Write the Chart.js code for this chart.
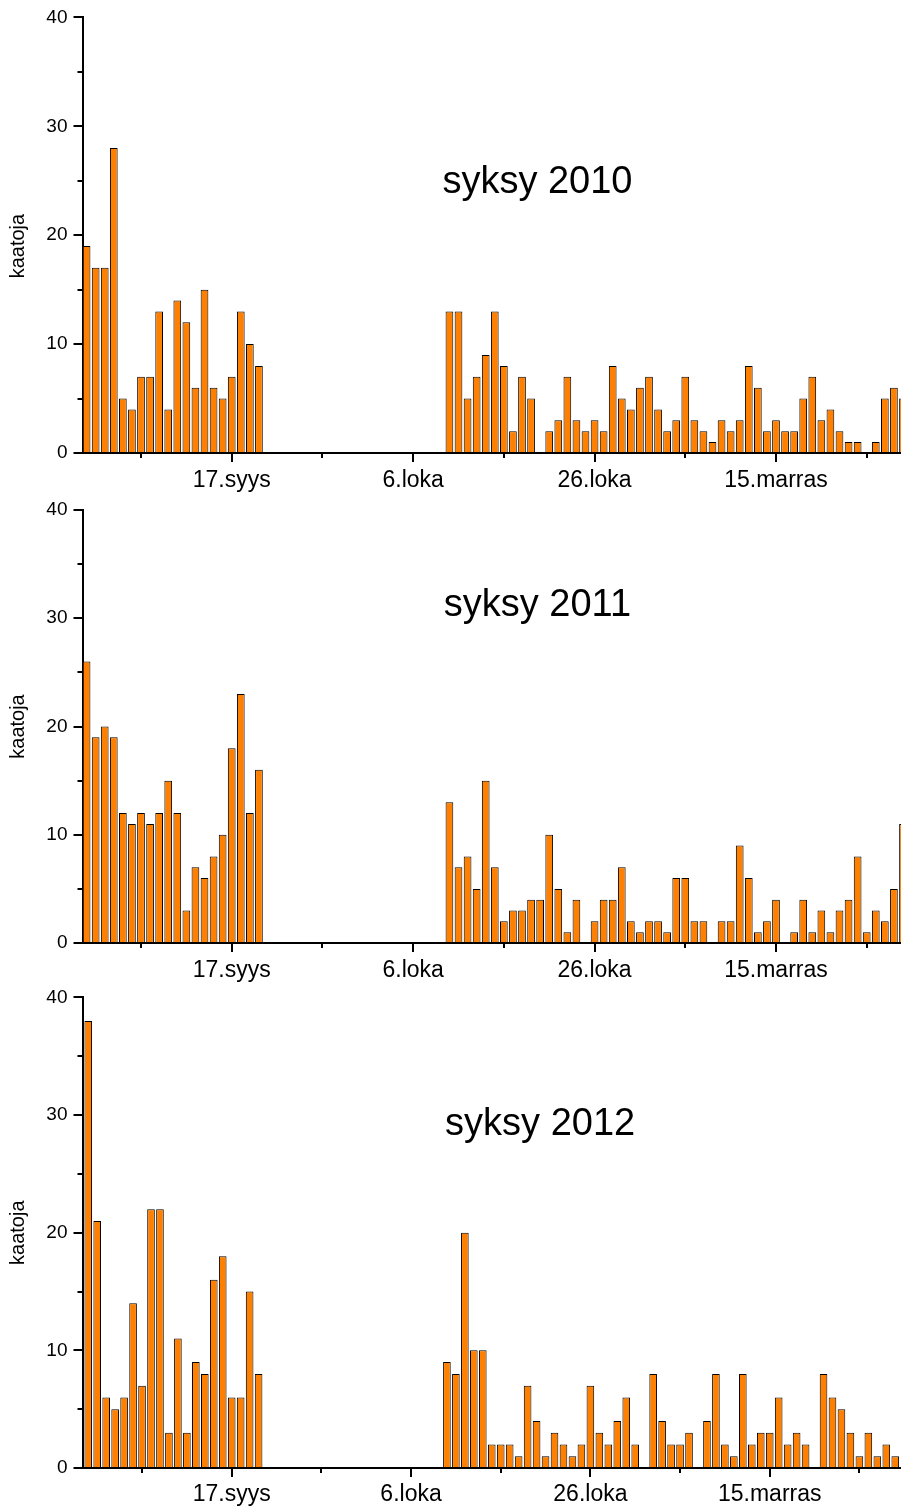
<!DOCTYPE html>
<html>
<head>
<meta charset="utf-8">
<script src="https://cdn.jsdelivr.net/npm/chart.js@4.4.0/dist/chart.umd.min.js"></script>
<style>
    html, body { margin: 0; padding: 0; background: #ffffff; }
    #sivu { position: relative; width: 901px; height: 1508px; overflow: hidden; }
    #sivu canvas { position: absolute; left: 0; }
</style>
</head>
<body>
<div id="sivu">
    <canvas id="kaavio2010" width="901" height="498" style="top:0px"></canvas>
    <canvas id="kaavio2011" width="901" height="498" style="top:490px"></canvas>
    <canvas id="kaavio2012" width="901" height="528" style="top:980px"></canvas>
</div>
<script>
// Daily counts, day 1 = first day of the season (1.syys)
const kaadot2010 = [
    19, 17, 17, 28, 5, 4, 7, 7, 13, 4, 14, 12, 6, 15, 6, 5, 7, 13, 10, 8,
    0, 0, 0, 0, 0, 0, 0, 0, 0, 0, 0, 0, 0, 0, 0, 0, 0, 0, 0, 0,
    13, 13, 5, 7, 9, 13, 8, 2, 7, 5,
    0, 2, 3, 7, 3, 2, 3, 2, 8, 5,
    4, 6, 7, 4, 2, 3, 7, 3, 2, 1,
    3, 2, 3, 8, 6, 2, 3, 2, 2, 5,
    7, 3, 4, 2, 1, 1, 0, 1, 5, 6,
    5
];
const kaadot2011 = [
    26, 19, 20, 19, 12, 11, 12, 11, 12, 15, 12, 3, 7, 6, 8, 10, 18, 23, 12, 16,
    0, 0, 0, 0, 0, 0, 0, 0, 0, 0, 0, 0, 0, 0, 0, 0, 0, 0, 0, 0,
    13, 7, 8, 5, 15, 7, 2, 3, 3, 4,
    4, 10, 5, 1, 4, 0, 2, 4, 4, 7,
    2, 1, 2, 2, 1, 6, 6, 2, 2, 0,
    2, 2, 9, 6, 1, 2, 4, 0, 1, 4,
    1, 3, 1, 3, 4, 8, 1, 3, 2, 5,
    11
];
const kaadot2012 = [
    38, 21, 6, 5, 6, 14, 7, 22, 22, 3, 11, 3, 9, 8, 16, 18, 6, 6, 15, 8,
    0, 0, 0, 0, 0, 0, 0, 0, 0, 0, 0, 0, 0, 0, 0, 0, 0, 0, 0, 0,
    9, 8, 20, 10, 10, 2, 2, 2, 1, 7,
    4, 1, 3, 2, 1, 2, 7, 3, 2, 4,
    6, 2, 0, 8, 4, 2, 2, 3, 0, 4,
    8, 2, 1, 8, 2, 3, 3, 6, 2, 3,
    2, 0, 8, 6, 5, 3, 1, 3, 1, 2,
    1
];

// Axis ticks
const paaPaivat = [17, 37, 57, 77];
const paivaNimet = ['17.syys', '6.loka', '26.loka', '15.marras'];
const valiPaivat = [7, 27, 47, 67, 87];
const valiArvot = [5, 15, 25, 35];

const fontti = "'Liberation Sans', Arial, sans-serif";
Chart.defaults.font.family = fontti;
Chart.defaults.color = '#000000';

// minor ticks, inner title and rotated axis label
const lisaPiirto = {
    id: 'lisaPiirto',
    afterDraw(chart) {
        const o = chart.options.plugins.lisaPiirto;
        const { ctx } = chart;
        const x = chart.scales.x;
        const y = chart.scales.y;
        ctx.save();
        ctx.strokeStyle = '#000000';
        ctx.lineWidth = 2;
        ctx.beginPath();
        valiPaivat.forEach(d => {
            const px = Math.round(x.getPixelForValue(d));
            ctx.moveTo(px, y.bottom);
            ctx.lineTo(px, y.bottom + 5);
        });
        valiArvot.forEach(v => {
            const py = Math.round(y.getPixelForValue(v));
            ctx.moveTo(x.left, py);
            ctx.lineTo(x.left - 5, py);
        });
        ctx.stroke();

        ctx.fillStyle = '#000000';
        ctx.textAlign = 'center';
        ctx.textBaseline = 'middle';
        ctx.font = '38px ' + fontti;
        ctx.fillText(o.otsikko, x.getPixelForValue(o.otsikkoX), y.getPixelForValue(o.otsikkoY));

        ctx.font = '20px ' + fontti;
        ctx.translate(18, y.getPixelForValue(o.nimiY));
        ctx.rotate(-Math.PI / 2);
        ctx.fillText('kaatoja', 0, 0);
        ctx.restore();
    }
};

function piirraKaavio(id, arvot, asetus) {
    const ctx = document.getElementById(id);
    const pisteet = arvot.map((v, i) => ({ x: i + 1, y: v === 0 ? null : v }));

    return new Chart(ctx, {
        type: 'bar',
        data: {
            datasets: [{
                data: pisteet,
                backgroundColor: '#ff8000',
                borderColor: '#000000',
                borderWidth: 1,
                borderSkipped: 'bottom',
                barPercentage: 0.85,
                categoryPercentage: 1.0
            }]
        },
        options: {
            responsive: false,
            animation: false,
            devicePixelRatio: 1,
            layout: {
                padding: { top: asetus.ylaReuna, right: 0, bottom: 0, left: 0 }
            },
            plugins: {
                legend: { display: false },
                tooltip: { enabled: false },
                lisaPiirto: asetus
            },
            scales: {
                x: {
                    type: 'linear',
                    offset: false,
                    min: asetus.xMin,
                    max: asetus.xMax,
                    afterBuildTicks: scale => {
                        scale.ticks = paaPaivat.map(v => ({ value: v }));
                    },
                    afterFit: scale => { scale.height = asetus.xKorkeus; },
                    grid: {
                        offset: false,
                        drawOnChartArea: false,
                        drawTicks: true,
                        tickLength: 9,
                        lineWidth: 2,
                        color: '#000000'
                    },
                    border: { display: true, color: '#000000', width: 2 },
                    ticks: {
                        autoSkip: false,
                        maxRotation: 0,
                        padding: asetus.nimiVali,
                        font: { size: 23 },
                        color: '#000000',
                        callback: (value, index) => paivaNimet[index]
                    }
                },
                y: {
                    min: 0,
                    max: 40,
                    afterFit: scale => { scale.width = 82.5; },
                    grid: {
                        drawOnChartArea: false,
                        drawTicks: true,
                        tickLength: 9,
                        lineWidth: 2,
                        color: '#000000'
                    },
                    border: { display: true, color: '#000000', width: 2 },
                    ticks: {
                        stepSize: 10,
                        padding: 6,
                        font: { size: 19 },
                        color: '#000000'
                    }
                }
            }
        },
        plugins: [lisaPiirto]
    });
}

piirraKaavio('kaavio2010', kaadot2010, {
    otsikko: 'syksy 2010', otsikkoX: 50.7, otsikkoY: 24.8, nimiY: 19,
    ylaReuna: 17, xKorkeus: 45, nimiVali: 5, xMin: 0.55, xMax: 90.78
});
piirraKaavio('kaavio2011', kaadot2011, {
    otsikko: 'syksy 2011', otsikkoX: 50.7, otsikkoY: 31.2, nimiY: 20,
    ylaReuna: 20, xKorkeus: 45, nimiVali: 5, xMin: 0.55, xMax: 90.78
});
piirraKaavio('kaavio2012', kaadot2012, {
    otsikko: 'syksy 2012', otsikkoX: 51.4, otsikkoY: 29.2, nimiY: 20,
    ylaReuna: 14, xKorkeus: 40, nimiVali: 4, xMin: 0.36, xMax: 91.64
});
</script>
</body>
</html>
